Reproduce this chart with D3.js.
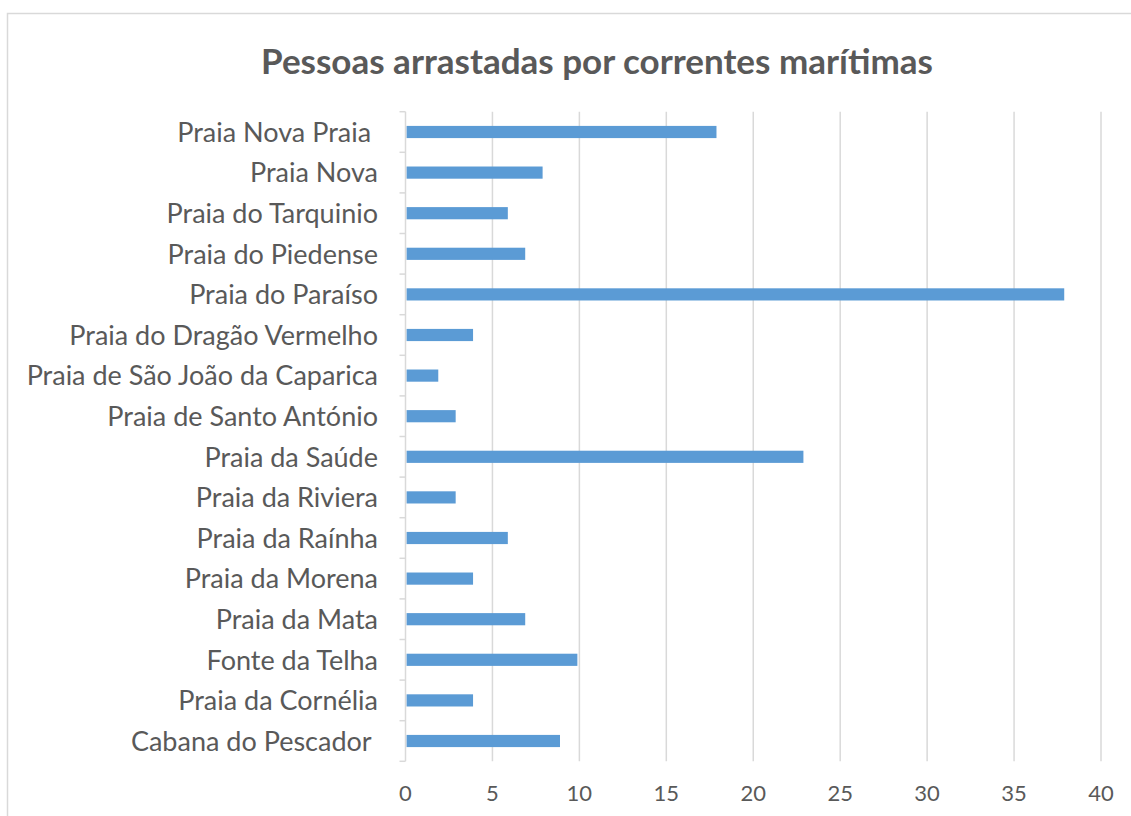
<!DOCTYPE html>
<html><head><meta charset="utf-8">
<script src="https://cdn.jsdelivr.net/npm/d3@7"></script>
<style>
html,body{margin:0;padding:0;background:#fff;}
svg text{white-space:pre;}
</style></head>
<body>
<svg id="c" width="1131" height="816"></svg>
<script>
const categories = ["Praia Nova Praia ","Praia Nova","Praia do Tarquinio","Praia do Piedense","Praia do Paraíso","Praia do Dragão Vermelho","Praia de São João da Caparica","Praia de Santo António","Praia da Saúde","Praia da Riviera","Praia da Raínha","Praia da Morena","Praia da Mata","Fonte da Telha","Praia da Cornélia","Cabana do Pescador "];
const values = [18,8,6,7,38,4,2,3,23,3,6,4,7,10,4,9];
const xTicks = [0,5,10,15,20,25,30,35,40];
const title = "Pessoas arrastadas por correntes marítimas";

(function(){
const svg = d3.select("#c");
const font = "Lato, 'Open Sans', sans-serif";
const pL = 405.5, pR = 1101, pT = 111.7, pB = 761.3;

// frame
svg.append("rect").attr("x",7.5).attr("y",13.5).attr("width",1200).attr("height",900)
  .attr("fill","#fff").attr("stroke","#d9d9d9").attr("stroke-width",1.5);

const x = d3.scaleLinear().domain([0,40]).range([pL,pR]);
const y = d3.scaleBand().domain(categories).range([pT,pB]).paddingInner(0.7).paddingOuter(0.35);

// gridlines
svg.append("g").selectAll("line").data(xTicks.slice(1)).join("line")
  .attr("x1",d=>x(d)).attr("x2",d=>x(d)).attr("y1",pT).attr("y2",pB)
  .attr("stroke","#d9d9d9").attr("stroke-width",1.5);

// bars
svg.append("g").selectAll("rect").data(values).join("rect")
  .attr("x",x(0)+1).attr("y",(d,i)=>y(categories[i]))
  .attr("width",d=>x(d)-x(0)-3).attr("height",y.bandwidth())
  .attr("fill","#5b9bd5");

// left axis line + ticks at category boundaries
svg.append("line").attr("x1",pL).attr("x2",pL).attr("y1",pT).attr("y2",pB)
  .attr("stroke","#d9d9d9").attr("stroke-width",1.5);
const step = y.step();
const bounds = d3.range(categories.length+1).map(i=>pT+i*step);
svg.append("g").selectAll("line").data(bounds).join("line")
  .attr("x1",pL-6).attr("x2",pL).attr("y1",d=>d).attr("y2",d=>d)
  .attr("stroke","#d9d9d9").attr("stroke-width",1.5);

// category labels
svg.append("g").selectAll("text").data(categories).join("text")
  .attr("x",378).attr("y",d=>y(d)+y.bandwidth()/2)
  .attr("dy","0.36em").attr("text-anchor","end")
  .attr("font-family",font).attr("font-size",27).attr("fill","#595959")
  .text(d=>d);

// x tick labels
svg.append("g").selectAll("text").data(xTicks).join("text")
  .attr("x",d=>x(d)).attr("y",793).attr("dy","0.36em").attr("text-anchor","middle")
  .attr("font-family",font).attr("font-size",22).attr("fill","#595959")
  .text(d=>d);

// title
svg.append("text").attr("x",597).attr("y",61).attr("dy","0.36em").attr("text-anchor","middle")
  .attr("font-family",font).attr("font-weight","bold").attr("font-size",35).attr("fill","#595959")
  .text(title);
})();
</script>
</body></html>
